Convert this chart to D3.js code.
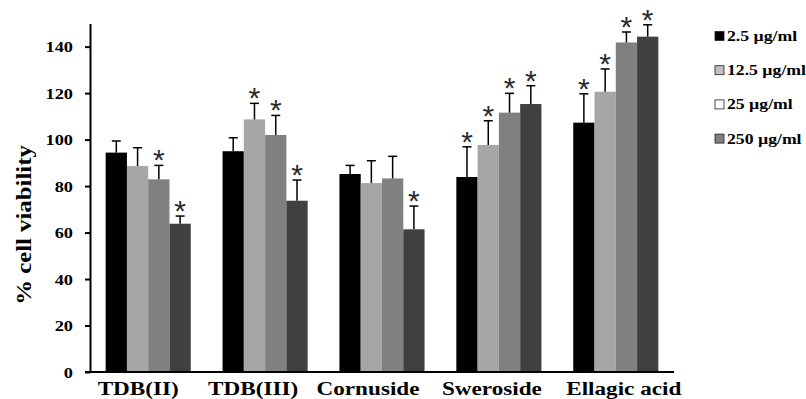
<!DOCTYPE html>
<html>
<head>
<meta charset="utf-8">
<script src="https://cdn.jsdelivr.net/npm/d3@7"></script>
<style>
  html, body { margin: 0; padding: 0; background: #fff; }
  svg { display: block; }
</style>
</head>
<body>
<svg id="chart" width="806" height="399"></svg>
<script>
// Compounds on the x axis
const categories = ["TDB(II)", "TDB(III)", "Cornuside", "Sweroside", "Ellagic acid"];
// Concentrations (legend entries)
const concentrations = ["2.5 µg/ml", "12.5 µg/ml", "25 µg/ml", "250 µg/ml"];

// Mean % cell viability per concentration, one value per compound
const viability2_5 = [94.4, 95.0, 85.2, 83.9, 107.3];
const viability12_5 = [88.6, 108.7, 81.3, 97.7, 120.6];
const viability25 = [82.9, 102.0, 83.3, 111.6, 141.8];
const viability250 = [63.8, 73.7, 61.4, 115.3, 144.3];

// Standard deviations (upper error bars)
const sd2_5 = [5.0, 5.8, 3.7, 13.0, 12.4];
const sd12_5 = [7.9, 6.9, 9.6, 10.4, 9.8];
const sd25 = [6.0, 8.4, 9.5, 8.3, 4.5];
const sd250 = [3.3, 8.9, 10.0, 7.9, 5.1];

// Significance markers (1 = significant vs control)
const sig2_5 = [0, 0, 0, 1, 1];
const sig12_5 = [0, 1, 0, 1, 1];
const sig25 = [1, 1, 0, 1, 1];
const sig250 = [1, 1, 1, 1, 1];

// Y axis tick values
const yTicks = [0, 20, 40, 60, 80, 100, 120, 140];

const series = [
  { name: concentrations[0], values: viability2_5, sd: sd2_5, sig: sig2_5 },
  { name: concentrations[1], values: viability12_5, sd: sd12_5, sig: sig12_5 },
  { name: concentrations[2], values: viability25, sd: sd25, sig: sig25 },
  { name: concentrations[3], values: viability250, sd: sd250, sig: sig250 }
];

// Styling
const barFill = ["#000000", "#a6a6a6", "#808080", "#404040"];
const legendFill = ["#000000", "#c0c0c0", "#ffffff", "#808080"];
const serif = "'Liberation Serif', 'Times New Roman', serif";
const stretch = 1.22;              // the lettering is drawn slightly wide
const labelNudge = [-10, -12, -14, -7, 8];

const svg = d3.select("#chart");

const x = d3.scaleBand()
  .domain(categories)
  .range([90, 674])
  .paddingInner(0.272)
  .paddingOuter(0.134);

const xInner = d3.scaleBand()
  .domain(concentrations)
  .range([0, x.bandwidth()]);

const y = d3.scaleLinear()
  .domain([0, 150])
  .range([372, 23.4]);

// Bars
const groups = svg.append("g")
  .selectAll("g")
  .data(categories)
  .join("g")
  .attr("transform", d => `translate(${x(d)},0)`);

const cells = groups.selectAll("g.cell")
  .data((c, ci) => series.map((s, si) => ({
    cat: c, si, name: s.name, v: s.values[ci], sd: s.sd[ci], sig: s.sig[ci]
  })))
  .join("g")
  .attr("class", "cell");

cells.append("rect")
  .attr("x", d => xInner(d.name))
  .attr("y", d => y(d.v))
  .attr("width", xInner.bandwidth())
  .attr("height", d => y(0) - y(d.v))
  .attr("fill", d => barFill[d.si]);

// Upper error bars
const cx = d => xInner(d.name) + xInner.bandwidth() / 2;
cells.append("line")
  .attr("x1", cx).attr("x2", cx)
  .attr("y1", d => y(d.v)).attr("y2", d => y(d.v + d.sd))
  .attr("stroke", "#000").attr("stroke-width", 1.5);
cells.append("line")
  .attr("x1", d => cx(d) - 4.5).attr("x2", d => cx(d) + 4.5)
  .attr("y1", d => y(d.v + d.sd)).attr("y2", d => y(d.v + d.sd))
  .attr("stroke", "#000").attr("stroke-width", 1.5);

// Significance asterisks
cells.filter(d => d.sig)
  .append("text")
  .attr("x", cx)
  .attr("y", d => y(d.v + d.sd) + 5)
  .attr("text-anchor", "middle")
  .attr("font-family", "'Liberation Sans', Arial, sans-serif")
  .attr("font-size", 30)
  .attr("fill", "#2b2b2b")
  .text("*");

// Y axis
const yAxis = svg.append("g")
  .attr("transform", "translate(90,0)")
  .call(d3.axisLeft(y).tickValues(yTicks).tickSize(5).tickSizeOuter(0).tickFormat(d3.format("d")));
yAxis.select(".domain").attr("stroke", "#000").attr("stroke-width", 2);
yAxis.selectAll(".tick line").attr("stroke", "#000").attr("stroke-width", 2);
yAxis.selectAll(".tick text")
  .attr("x", null).attr("dy", null)
  .attr("transform", "translate(-17,5) scale(" + stretch + ",1)")
  .attr("text-anchor", "end")
  .attr("font-family", serif)
  .attr("font-weight", "bold")
  .attr("font-size", 15)
  .attr("fill", "#000");

// X axis baseline
svg.append("line")
  .attr("x1", 85).attr("x2", x.range()[1])
  .attr("y1", y(0)).attr("y2", y(0))
  .attr("stroke", "#000").attr("stroke-width", 2);

// Category labels
svg.append("g")
  .selectAll("text")
  .data(categories)
  .join("text")
  .attr("transform", (d, i) => `translate(${x(d) + x.bandwidth() / 2 + labelNudge[i]},395) scale(${stretch},1)`)
  .attr("text-anchor", "middle")
  .attr("font-family", serif)
  .attr("font-weight", "bold")
  .attr("font-size", 19)
  .attr("fill", "#000")
  .text(d => d);

// Y axis title
svg.append("text")
  .attr("transform", "translate(31,225) rotate(-90) scale(1.18,1)")
  .attr("text-anchor", "middle")
  .attr("font-family", serif)
  .attr("font-weight", "bold")
  .attr("font-size", 21)
  .attr("fill", "#000")
  .text("% cell viability");

// Legend
const legend = svg.append("g")
  .selectAll("g")
  .data(concentrations)
  .join("g")
  .attr("transform", (d, i) => `translate(715,${36 + i * 34.2})`);

legend.append("rect")
  .attr("x", 0).attr("y", -4.5)
  .attr("width", 9).attr("height", 9)
  .attr("fill", (d, i) => legendFill[i])
  .attr("stroke", "#222").attr("stroke-width", 0.8);

legend.append("text")
  .attr("transform", "translate(12,5) scale(1.18,1)")
  .attr("font-family", serif)
  .attr("font-weight", "bold")
  .attr("font-size", 15)
  .attr("fill", "#000")
  .text(d => d);
</script>
</body>
</html>
